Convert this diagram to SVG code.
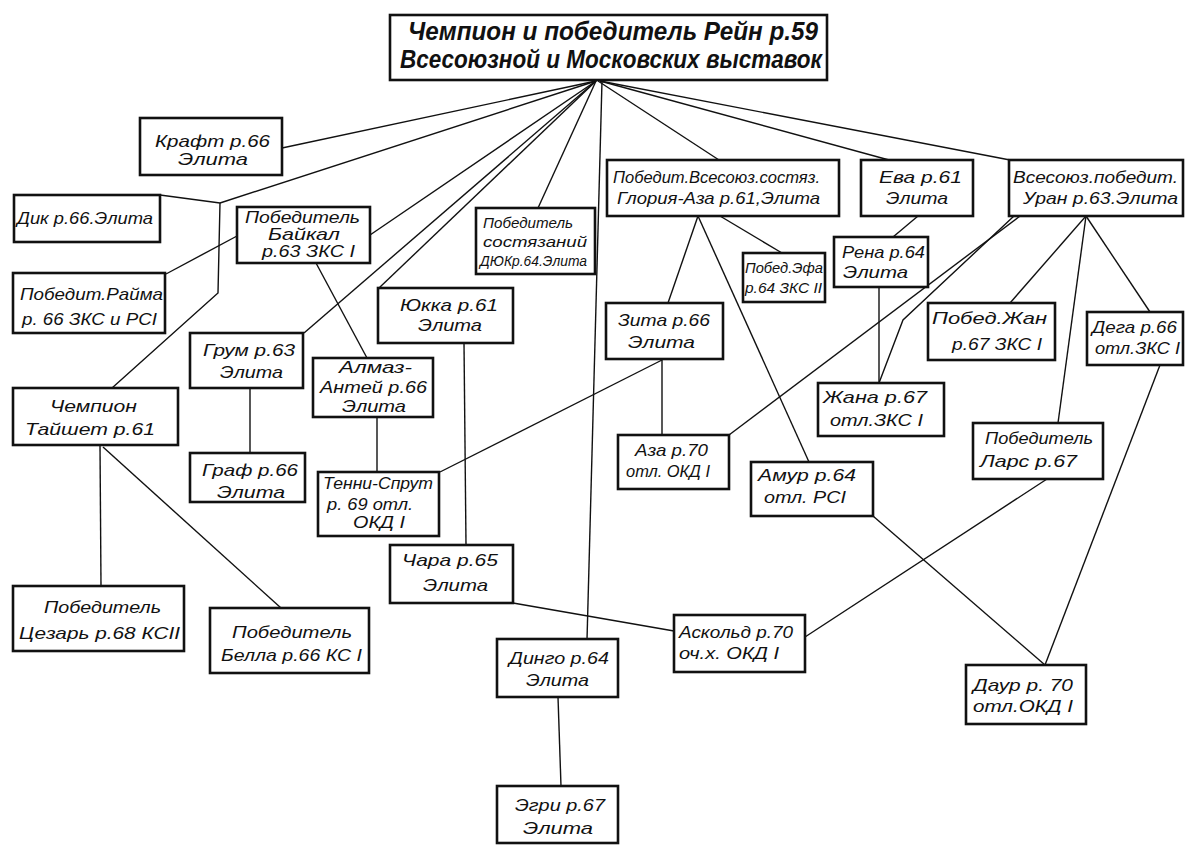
<svg xmlns="http://www.w3.org/2000/svg" width="1186" height="846" viewBox="0 0 1186 846">
<style>
.box{fill:#fff;stroke:#111;stroke-width:2.6}
.t{font-family:"Liberation Sans","DejaVu Sans",sans-serif;font-style:italic;font-size:17px;fill:#111}
.s{font-size:14px}
.h{font-size:25px;font-weight:bold}
.c{fill:none;stroke:#111;stroke-width:1.4}
</style>
<rect width="1186" height="846" fill="#fff"/>
<g id="connectors">
<path class="c" d="M596,81 L282,148"/>
<path class="c" d="M596,81 L220,203"/>
<path class="c" d="M160,195 L220,203"/>
<path class="c" d="M220,203 L218,293 L112,388"/>
<path class="c" d="M596,81 L370,235"/>
<path class="c" d="M237,236 L166,274"/>
<path class="c" d="M316,263 L367,358"/>
<path class="c" d="M596,81 L304,333"/>
<path class="c" d="M596,81 L379,288"/>
<path class="c" d="M596,81 L538,208"/>
<path class="c" d="M602,81 L587,640"/>
<path class="c" d="M598,81 L719,160"/>
<path class="c" d="M600,81 L889,160"/>
<path class="c" d="M600,81 L1010,160"/>
<path class="c" d="M698,216 L668,303"/>
<path class="c" d="M698,216 L809,462"/>
<path class="c" d="M720,216 L782,253"/>
<path class="c" d="M918,216 L893,237"/>
<path class="c" d="M879,287 L879,383"/>
<path class="c" d="M1020,216 L729,435"/>
<path class="c" d="M1014,216 L903,320 L879,383"/>
<path class="c" d="M1086,216 L1010,303"/>
<path class="c" d="M1086,216 L1058,423"/>
<path class="c" d="M1086,216 L1150,312"/>
<path class="c" d="M1160,365 L1045,665"/>
<path class="c" d="M873,516 L1045,665"/>
<path class="c" d="M1047,479 L805,637"/>
<path class="c" d="M513,603 L674,631"/>
<path class="c" d="M100,445 L101,586"/>
<path class="c" d="M103,447 L281,608"/>
<path class="c" d="M250,388 L250,453"/>
<path class="c" d="M377,417 L377,472"/>
<path class="c" d="M464,343 L466,545"/>
<path class="c" d="M662,360 L440,472"/>
<path class="c" d="M662,360 L662,435"/>
<path class="c" d="M558,697 L561,786"/>
</g>
<g id="n-rein">
<rect class="box" x="390" y="15" width="437" height="65" stroke-width="3"/>
<text class="t h" x="408" y="40" textLength="410" lengthAdjust="spacingAndGlyphs">Чемпион и победитель Рейн р.59</text>
<text class="t h" x="400" y="68" textLength="422" lengthAdjust="spacingAndGlyphs">Всесоюзной и Московских выставок</text>
</g>
<g id="n-kraft">
<rect class="box" x="140" y="118" width="142" height="57"/>
<text class="t" x="155" y="147" textLength="115" lengthAdjust="spacingAndGlyphs">Крафт р.66</text>
<text class="t" x="178" y="165" textLength="70" lengthAdjust="spacingAndGlyphs">Элита</text>
</g>
<g id="n-dik">
<rect class="box" x="14" y="195" width="146" height="47"/>
<text class="t" x="17" y="224" textLength="136" lengthAdjust="spacingAndGlyphs">Дик р.66.Элита</text>
</g>
<g id="n-baikal">
<rect class="box" x="237" y="207" width="133" height="56"/>
<text class="t" x="245" y="223" textLength="115" lengthAdjust="spacingAndGlyphs">Победитель</text>
<text class="t" x="268" y="240" textLength="72" lengthAdjust="spacingAndGlyphs">Байкал</text>
<text class="t" x="262" y="257" textLength="93" lengthAdjust="spacingAndGlyphs">р.63 ЗКС I</text>
</g>
<g id="n-raima">
<rect class="box" x="13" y="273" width="152" height="60"/>
<text class="t" x="20" y="300" textLength="143" lengthAdjust="spacingAndGlyphs">Победит.Райма</text>
<text class="t" x="22" y="325" textLength="135" lengthAdjust="spacingAndGlyphs">р. 66 ЗКС и РСI</text>
</g>
<g id="n-taishet">
<rect class="box" x="13" y="388" width="165" height="57"/>
<text class="t" x="50" y="412" textLength="87" lengthAdjust="spacingAndGlyphs">Чемпион</text>
<text class="t" x="25" y="435" textLength="130" lengthAdjust="spacingAndGlyphs">Тайшет  р.61</text>
</g>
<g id="n-grum">
<rect class="box" x="190" y="333" width="113" height="55"/>
<text class="t" x="203" y="356" textLength="92" lengthAdjust="spacingAndGlyphs">Грум р.63</text>
<text class="t" x="220" y="378" textLength="63" lengthAdjust="spacingAndGlyphs">Элита</text>
</g>
<g id="n-graf">
<rect class="box" x="190" y="453" width="115" height="49"/>
<text class="t" x="202" y="476" textLength="96" lengthAdjust="spacingAndGlyphs">Граф р.66</text>
<text class="t" x="217" y="498" textLength="68" lengthAdjust="spacingAndGlyphs">Элита</text>
</g>
<g id="n-almaz">
<rect class="box" x="313" y="358" width="120" height="59"/>
<text class="t" x="339" y="373" textLength="73" lengthAdjust="spacingAndGlyphs">Алмаз-</text>
<text class="t" x="320" y="393" textLength="107" lengthAdjust="spacingAndGlyphs">Антей р.66</text>
<text class="t" x="342" y="412" textLength="64" lengthAdjust="spacingAndGlyphs">Элита</text>
</g>
<g id="n-tenni">
<rect class="box" x="318" y="472" width="121" height="64"/>
<text class="t" x="323" y="489" textLength="110" lengthAdjust="spacingAndGlyphs">Тенни-Спрут</text>
<text class="t" x="327" y="510" textLength="86" lengthAdjust="spacingAndGlyphs">р. 69 отл.</text>
<text class="t" x="353" y="528" textLength="52" lengthAdjust="spacingAndGlyphs">ОКД I</text>
</g>
<g id="n-yukka">
<rect class="box" x="378" y="288" width="135" height="55"/>
<text class="t" x="400" y="311" textLength="98" lengthAdjust="spacingAndGlyphs">Юкка р.61</text>
<text class="t" x="418" y="331" textLength="64" lengthAdjust="spacingAndGlyphs">Элита</text>
</g>
<g id="n-chara">
<rect class="box" x="390" y="545" width="123" height="58"/>
<text class="t" x="402" y="566" textLength="96" lengthAdjust="spacingAndGlyphs">Чара р.65</text>
<text class="t" x="423" y="591" textLength="65" lengthAdjust="spacingAndGlyphs">Элита</text>
</g>
<g id="n-dyuk">
<rect class="box" x="476" y="208" width="119" height="66"/>
<text class="t s" x="483" y="228" textLength="90" lengthAdjust="spacingAndGlyphs">Победитель</text>
<text class="t s" x="483" y="247" textLength="104" lengthAdjust="spacingAndGlyphs">состязаний</text>
<text class="t s" x="480" y="266" textLength="107" lengthAdjust="spacingAndGlyphs">ДЮКр.64.Элита</text>
</g>
<g id="n-gloria">
<rect class="box" x="607" y="160" width="232" height="56"/>
<text class="t" x="613" y="183" textLength="207" lengthAdjust="spacingAndGlyphs">Победит.Всесоюз.состяз.</text>
<text class="t" x="617" y="204" textLength="203" lengthAdjust="spacingAndGlyphs">Глория-Аза р.61,Элита</text>
</g>
<g id="n-efa">
<rect class="box" x="743" y="253" width="82" height="49"/>
<text class="t s" x="745" y="273" textLength="78" lengthAdjust="spacingAndGlyphs">Побед.Эфа</text>
<text class="t s" x="745" y="293" textLength="77" lengthAdjust="spacingAndGlyphs">р.64 ЗКС II</text>
</g>
<g id="n-eva">
<rect class="box" x="861" y="160" width="112" height="56"/>
<text class="t" x="879" y="183" textLength="83" lengthAdjust="spacingAndGlyphs">Ева р.61</text>
<text class="t" x="886" y="204" textLength="62" lengthAdjust="spacingAndGlyphs">Элита</text>
</g>
<g id="n-uran">
<rect class="box" x="1009" y="160" width="174" height="56"/>
<text class="t" x="1013" y="183" textLength="165" lengthAdjust="spacingAndGlyphs">Всесоюз.победит.</text>
<text class="t" x="1023" y="204" textLength="155" lengthAdjust="spacingAndGlyphs">Уран р.63.Элита</text>
</g>
<g id="n-rena">
<rect class="box" x="834" y="237" width="94" height="50"/>
<text class="t" x="842" y="258" textLength="83" lengthAdjust="spacingAndGlyphs">Рена р.64</text>
<text class="t" x="843" y="278" textLength="65" lengthAdjust="spacingAndGlyphs">Элита</text>
</g>
<g id="n-zita">
<rect class="box" x="606" y="303" width="117" height="56"/>
<text class="t" x="618" y="326" textLength="92" lengthAdjust="spacingAndGlyphs">Зита р.66</text>
<text class="t" x="628" y="348" textLength="67" lengthAdjust="spacingAndGlyphs">Элита</text>
</g>
<g id="n-aza">
<rect class="box" x="618" y="435" width="111" height="54"/>
<text class="t" x="635" y="456" textLength="73" lengthAdjust="spacingAndGlyphs">Аза р.70</text>
<text class="t" x="626" y="477" textLength="84" lengthAdjust="spacingAndGlyphs">отл. ОКД I</text>
</g>
<g id="n-amur">
<rect class="box" x="751" y="462" width="122" height="54"/>
<text class="t" x="758" y="481" textLength="98" lengthAdjust="spacingAndGlyphs">Амур р.64</text>
<text class="t" x="764" y="503" textLength="82" lengthAdjust="spacingAndGlyphs">отл. РСI</text>
</g>
<g id="n-zhana">
<rect class="box" x="818" y="383" width="126" height="53"/>
<text class="t" x="823" y="403" textLength="104" lengthAdjust="spacingAndGlyphs">Жана р.67</text>
<text class="t" x="830" y="426" textLength="93" lengthAdjust="spacingAndGlyphs">отл.ЗКС I</text>
</g>
<g id="n-zhan">
<rect class="box" x="928" y="303" width="127" height="57"/>
<text class="t" x="932" y="324" textLength="115" lengthAdjust="spacingAndGlyphs">Побед.Жан</text>
<text class="t" x="952" y="350" textLength="90" lengthAdjust="spacingAndGlyphs">р.67 ЗКС I</text>
</g>
<g id="n-dega">
<rect class="box" x="1087" y="312" width="96" height="53"/>
<text class="t" x="1092" y="333" textLength="85" lengthAdjust="spacingAndGlyphs">Дега р.66</text>
<text class="t" x="1095" y="354" textLength="85" lengthAdjust="spacingAndGlyphs">отл.ЗКС I</text>
</g>
<g id="n-lars">
<rect class="box" x="973" y="423" width="130" height="56"/>
<text class="t" x="985" y="444" textLength="108" lengthAdjust="spacingAndGlyphs">Победитель</text>
<text class="t" x="980" y="467" textLength="97" lengthAdjust="spacingAndGlyphs">Ларс  р.67</text>
</g>
<g id="n-askold">
<rect class="box" x="674" y="615" width="131" height="57"/>
<text class="t" x="679" y="638" textLength="114" lengthAdjust="spacingAndGlyphs">Аскольд р.70</text>
<text class="t" x="679" y="659" textLength="100" lengthAdjust="spacingAndGlyphs">оч.х.  ОКД I</text>
</g>
<g id="n-daur">
<rect class="box" x="966" y="665" width="120" height="59"/>
<text class="t" x="973" y="691" textLength="100" lengthAdjust="spacingAndGlyphs">Даур р. 70</text>
<text class="t" x="973" y="712" textLength="100" lengthAdjust="spacingAndGlyphs">отл.ОКД I</text>
</g>
<g id="n-tsezar">
<rect class="box" x="13" y="586" width="171" height="65"/>
<text class="t" x="44" y="613" textLength="117" lengthAdjust="spacingAndGlyphs">Победитель</text>
<text class="t" x="19" y="639" textLength="161" lengthAdjust="spacingAndGlyphs">Цезарь р.68 КСII</text>
</g>
<g id="n-bella">
<rect class="box" x="210" y="608" width="159" height="65"/>
<text class="t" x="232" y="638" textLength="120" lengthAdjust="spacingAndGlyphs">Победитель</text>
<text class="t" x="221" y="661" textLength="141" lengthAdjust="spacingAndGlyphs">Белла р.66 КС I</text>
</g>
<g id="n-dingo">
<rect class="box" x="497" y="639" width="121" height="58"/>
<text class="t" x="509" y="664" textLength="100" lengthAdjust="spacingAndGlyphs">Динго р.64</text>
<text class="t" x="526" y="686" textLength="63" lengthAdjust="spacingAndGlyphs">Элита</text>
</g>
<g id="n-egri">
<rect class="box" x="497" y="786" width="121" height="57"/>
<text class="t" x="515" y="811" textLength="90" lengthAdjust="spacingAndGlyphs">Эгри р.67</text>
<text class="t" x="523" y="834" textLength="70" lengthAdjust="spacingAndGlyphs">Элита</text>
</g>
</svg>
